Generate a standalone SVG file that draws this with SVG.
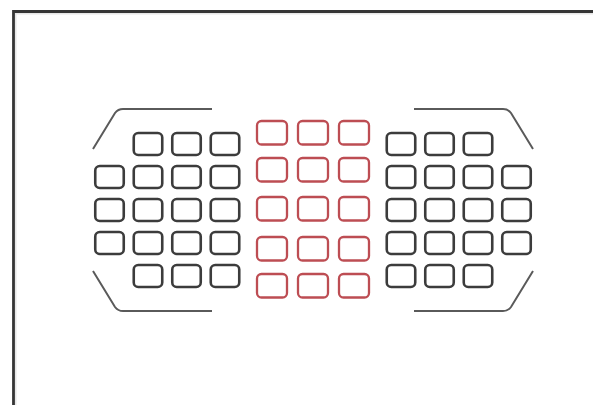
<svg xmlns="http://www.w3.org/2000/svg" width="593" height="405" viewBox="0 0 593 405">
<style>
.b{fill:none;stroke:#3c3c3c;stroke-width:2.6}
.r{fill:none;stroke:#bd4d53;stroke-width:2.3}
.arc{fill:none;stroke:#5a5a5a;stroke-width:2}
</style>
<rect width="593" height="405" fill="#ffffff"/>
<g id="frame">
<path d="M15.5,405 V13.5 H593" fill="none" stroke="#e6e6e6" stroke-width="2"/>
<path d="M13.5,405 V11.5 H593" fill="none" stroke="#353535" stroke-width="2.8"/>
</g>
<g id="brackets">
<path class="arc" d="M93,149 L115,113 Q118,109 123,109 L212,109"/>
<path class="arc" d="M93,271 L115,307 Q118,311 123,311 L212,311"/>
<path class="arc" d="M533,149 L511,113 Q508,109 503,109 L414,109"/>
<path class="arc" d="M533,271 L511,307 Q508,311 503,311 L414,311"/>
</g>
<g id="left-points">
<g id="L1-2"><rect class="b" x="133.75" y="133" width="28.5" height="22" rx="4.5"/></g>
<g id="L1-3"><rect class="b" x="172.25" y="133" width="28.5" height="22" rx="4.5"/></g>
<g id="L1-4"><rect class="b" x="210.75" y="133" width="28.5" height="22" rx="4.5"/></g>
<g id="L2-1"><rect class="b" x="95.25" y="166" width="28.5" height="22" rx="4.5"/></g>
<g id="L2-2"><rect class="b" x="133.75" y="166" width="28.5" height="22" rx="4.5"/></g>
<g id="L2-3"><rect class="b" x="172.25" y="166" width="28.5" height="22" rx="4.5"/></g>
<g id="L2-4"><rect class="b" x="210.75" y="166" width="28.5" height="22" rx="4.5"/></g>
<g id="L3-1"><rect class="b" x="95.25" y="199" width="28.5" height="22" rx="4.5"/></g>
<g id="L3-2"><rect class="b" x="133.75" y="199" width="28.5" height="22" rx="4.5"/></g>
<g id="L3-3"><rect class="b" x="172.25" y="199" width="28.5" height="22" rx="4.5"/></g>
<g id="L3-4"><rect class="b" x="210.75" y="199" width="28.5" height="22" rx="4.5"/></g>
<g id="L4-1"><rect class="b" x="95.25" y="232" width="28.5" height="22" rx="4.5"/></g>
<g id="L4-2"><rect class="b" x="133.75" y="232" width="28.5" height="22" rx="4.5"/></g>
<g id="L4-3"><rect class="b" x="172.25" y="232" width="28.5" height="22" rx="4.5"/></g>
<g id="L4-4"><rect class="b" x="210.75" y="232" width="28.5" height="22" rx="4.5"/></g>
<g id="L5-2"><rect class="b" x="133.75" y="265" width="28.5" height="22" rx="4.5"/></g>
<g id="L5-3"><rect class="b" x="172.25" y="265" width="28.5" height="22" rx="4.5"/></g>
<g id="L5-4"><rect class="b" x="210.75" y="265" width="28.5" height="22" rx="4.5"/></g>
</g>
<g id="center-points">
<g id="C1-1"><rect class="r" x="257" y="121" width="30" height="23.5" rx="4.5"/></g>
<g id="C1-2"><rect class="r" x="298" y="121" width="30" height="23.5" rx="4.5"/></g>
<g id="C1-3"><rect class="r" x="339" y="121" width="30" height="23.5" rx="4.5"/></g>
<g id="C2-1"><rect class="r" x="257" y="158" width="30" height="23.5" rx="4.5"/></g>
<g id="C2-2"><rect class="r" x="298" y="158" width="30" height="23.5" rx="4.5"/></g>
<g id="C2-3"><rect class="r" x="339" y="158" width="30" height="23.5" rx="4.5"/></g>
<g id="C3-1"><rect class="r" x="257" y="197" width="30" height="23.5" rx="4.5"/></g>
<g id="C3-2"><rect class="r" x="298" y="197" width="30" height="23.5" rx="4.5"/></g>
<g id="C3-3"><rect class="r" x="339" y="197" width="30" height="23.5" rx="4.5"/></g>
<g id="C4-1"><rect class="r" x="257" y="237" width="30" height="23.5" rx="4.5"/></g>
<g id="C4-2"><rect class="r" x="298" y="237" width="30" height="23.5" rx="4.5"/></g>
<g id="C4-3"><rect class="r" x="339" y="237" width="30" height="23.5" rx="4.5"/></g>
<g id="C5-1"><rect class="r" x="257" y="274" width="30" height="23.5" rx="4.5"/></g>
<g id="C5-2"><rect class="r" x="298" y="274" width="30" height="23.5" rx="4.5"/></g>
<g id="C5-3"><rect class="r" x="339" y="274" width="30" height="23.5" rx="4.5"/></g>
</g>
<g id="right-points">
<g id="R1-1"><rect class="b" x="386.75" y="133" width="28.5" height="22" rx="4.5"/></g>
<g id="R1-2"><rect class="b" x="425.25" y="133" width="28.5" height="22" rx="4.5"/></g>
<g id="R1-3"><rect class="b" x="463.75" y="133" width="28.5" height="22" rx="4.5"/></g>
<g id="R2-1"><rect class="b" x="386.75" y="166" width="28.5" height="22" rx="4.5"/></g>
<g id="R2-2"><rect class="b" x="425.25" y="166" width="28.5" height="22" rx="4.5"/></g>
<g id="R2-3"><rect class="b" x="463.75" y="166" width="28.5" height="22" rx="4.5"/></g>
<g id="R2-4"><rect class="b" x="502.25" y="166" width="28.5" height="22" rx="4.5"/></g>
<g id="R3-1"><rect class="b" x="386.75" y="199" width="28.5" height="22" rx="4.5"/></g>
<g id="R3-2"><rect class="b" x="425.25" y="199" width="28.5" height="22" rx="4.5"/></g>
<g id="R3-3"><rect class="b" x="463.75" y="199" width="28.5" height="22" rx="4.5"/></g>
<g id="R3-4"><rect class="b" x="502.25" y="199" width="28.5" height="22" rx="4.5"/></g>
<g id="R4-1"><rect class="b" x="386.75" y="232" width="28.5" height="22" rx="4.5"/></g>
<g id="R4-2"><rect class="b" x="425.25" y="232" width="28.5" height="22" rx="4.5"/></g>
<g id="R4-3"><rect class="b" x="463.75" y="232" width="28.5" height="22" rx="4.5"/></g>
<g id="R4-4"><rect class="b" x="502.25" y="232" width="28.5" height="22" rx="4.5"/></g>
<g id="R5-1"><rect class="b" x="386.75" y="265" width="28.5" height="22" rx="4.5"/></g>
<g id="R5-2"><rect class="b" x="425.25" y="265" width="28.5" height="22" rx="4.5"/></g>
<g id="R5-3"><rect class="b" x="463.75" y="265" width="28.5" height="22" rx="4.5"/></g>
</g>
<g id="connectors"></g>
</svg>
